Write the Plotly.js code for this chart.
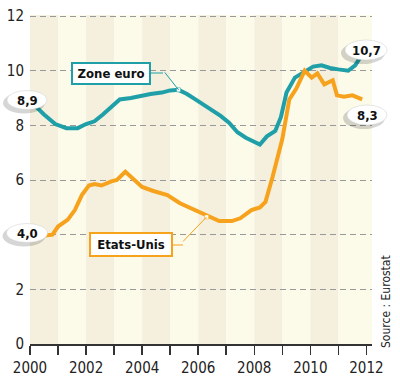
<!DOCTYPE html>
<html><head><meta charset="utf-8">
<script src="https://cdn.plot.ly/plotly-3.0.1.min.js"></script>
<style>html,body{margin:0;padding:0;background:#fff}#chart{width:400px;height:379px}</style>
</head><body><div id="chart"></div>
<script>
// ---- data ----
const euroYears = [2000.0,2000.2,2000.5,2000.9,2001.3,2001.7,2002.0,2002.3,2002.6,2002.9,2003.2,2003.6,2004.0,2004.3,2004.7,2005.0,2005.3,2005.6,2005.9,2006.2,2006.5,2006.8,2007.1,2007.4,2007.7,2008.0,2008.2,2008.45,2008.75,2008.95,2009.15,2009.45,2009.8,2010.1,2010.4,2010.7,2011.0,2011.35,2011.6,2011.85];
const euroRate  = [8.85,8.7,8.4,8.05,7.9,7.9,8.05,8.15,8.4,8.7,8.95,9.0,9.1,9.15,9.2,9.28,9.3,9.15,8.95,8.75,8.55,8.35,8.1,7.75,7.55,7.4,7.3,7.6,7.8,8.3,9.2,9.75,9.95,10.15,10.2,10.1,10.05,10.0,10.2,10.6];
const usYears = [2000.0,2000.4,2000.8,2001.0,2001.35,2001.6,2001.85,2002.1,2002.3,2002.55,2002.9,2003.1,2003.4,2003.6,2003.8,2004.0,2004.4,2004.9,2005.35,2005.8,2006.3,2006.75,2007.2,2007.5,2007.9,2008.2,2008.4,2008.65,2009.0,2009.25,2009.5,2009.8,2010.05,2010.25,2010.5,2010.8,2010.95,2011.2,2011.5,2011.85];
const usRate  = [4.0,3.95,4.0,4.3,4.55,4.9,5.45,5.8,5.85,5.8,5.95,6.0,6.3,6.1,5.9,5.75,5.6,5.45,5.15,4.95,4.7,4.5,4.5,4.6,4.9,5.0,5.2,6.1,7.5,8.95,9.35,10.0,9.75,9.9,9.5,9.65,9.1,9.05,9.1,8.95];
const seriesNames = ["Zone euro","Etats-Unis"];
const startLabels = ["8,9","4,0"];
const endLabels = ["10,7","8,3"];
const yearTicks = [2000,2001,2002,2003,2004,2005,2006,2007,2008,2009,2010,2011,2012];
const yearLabels = ["2000","","2002","","2004","","2006","","2008","","2010","","2012"];
const yTicks = [0,2,4,6,8,10,12];
const yLabels = ["0","2","","6","8","10","12"];   // "4" is hidden behind the 4,0 label
const sourceText = "Source : Eurostat";

// ---- styles ----
const TEAL = "#1f9fa8", ORANGE = "#f7a21c";
const FONT = "Liberation Sans Narrow, DejaVu Sans Condensed, Arial Narrow, sans-serif";
const L = 30, R = 28, T = 15, B = 35, W = 400, H = 379;
const pw = W - L - R, ph = H - T - B;
const px = p => (p - L) / pw;           // pixel -> paper x
const py = p => (H - B - p) / ph;       // pixel -> paper y

const euroIdx = 16, usIdx = 20;

const traces = [
  {x: euroYears, y: euroRate, type: "scatter", mode: "lines", line: {color: TEAL, width: 4}, hoverinfo: "skip"},
  {x: usYears, y: usRate, type: "scatter", mode: "lines", line: {color: ORANGE, width: 4}, hoverinfo: "skip"},
  {x: [euroYears[euroIdx]], y: [euroRate[euroIdx]], type: "scatter", mode: "markers",
   marker: {symbol: "square", size: 4, color: "#fff", line: {color: TEAL, width: 0.5}}, hoverinfo: "skip"},
  {x: [usYears[usIdx]], y: [usRate[usIdx] - 0.05], type: "scatter", mode: "markers",
   marker: {symbol: "square", size: 4, color: "#fff", line: {color: ORANGE, width: 0.5}}, hoverinfo: "skip"}
];

const shapes = [];
for (let yr = 2000; yr < 2012; yr++) {
  shapes.push({type: "rect", xref: "x", yref: "paper", x0: yr, x1: yr === 2011 ? 2012.2 : yr + 1, y0: 0, y1: 1,
    fillcolor: (yr % 2 === 0) ? "#f4f0dd" : "#fcfae9", line: {width: 0}, layer: "below"});
}
function ellipse(cx, cy, w, h) {
  shapes.push({type: "circle", xref: "paper", yref: "paper", xsizemode: "pixel", ysizemode: "pixel",
    xanchor: px(cx - 3), yanchor: py(cy + 3), x0: -w/2 - 1, x1: w/2 + 1, y0: -h/2 - 1, y1: h/2 + 1,
    fillcolor: "rgba(0,0,0,0.16)", line: {width: 0}, layer: "above"});
  shapes.push({type: "circle", xref: "paper", yref: "paper", xsizemode: "pixel", ysizemode: "pixel",
    xanchor: px(cx), yanchor: py(cy), x0: -w/2, x1: w/2, y0: -h/2, y1: h/2,
    fillcolor: "#ffffff", line: {width: 0.5, color: "#cccccc"}, layer: "above"});
}
const valueLabels = [
  {t: startLabels[0], cx: 27, cy: 100, w: 40, h: 19},
  {t: startLabels[1], cx: 27, cy: 233, w: 41, h: 19},
  {t: endLabels[0], cx: 366, cy: 50, w: 42, h: 20},
  {t: endLabels[1], cx: 367, cy: 115, w: 40, h: 20}
];
valueLabels.forEach(v => ellipse(v.cx, v.cy, v.w, v.h));

shapes.push({type: "line", xref: "paper", yref: "paper", x0: px(150), x1: px(163), y0: py(73), y1: py(73), line: {color: TEAL, width: 1}});
shapes.push({type: "line", xref: "paper", yref: "paper", x0: px(172), x1: px(183), y0: py(245), y1: py(245), line: {color: ORANGE, width: 1}});

const annotations = [];
valueLabels.forEach(v => annotations.push({xref: "paper", yref: "paper", x: px(v.cx), y: py(v.cy), text: "<b>" + v.t + "</b>",
  showarrow: false, font: {family: FONT, size: 13, color: "#111"}, xanchor: "center", yanchor: "middle"}));
annotations.push({xref: "paper", yref: "paper", x: px(111), y: py(73), text: "<b>" + seriesNames[0] + "</b>", showarrow: false,
  font: {family: FONT, size: 13, color: "#111"}, bgcolor: "#fff", bordercolor: TEAL, borderwidth: 2, borderpad: 2,
  width: 72, height: 15, xanchor: "center", yanchor: "middle"});
annotations.push({xref: "paper", yref: "paper", x: px(131), y: py(245), text: "<b>" + seriesNames[1] + "</b>", showarrow: false,
  font: {family: FONT, size: 13, color: "#111"}, bgcolor: "#fff", bordercolor: ORANGE, borderwidth: 2, borderpad: 2,
  width: 76, height: 17, xanchor: "center", yanchor: "middle"});
annotations.push({x: euroYears[euroIdx], y: euroRate[euroIdx], xref: "x", yref: "y", text: "", showarrow: true,
  arrowhead: 0, arrowwidth: 1, arrowcolor: TEAL, ax: -15, ay: -19, standoff: 0});
annotations.push({x: usYears[usIdx], y: usRate[usIdx] - 0.05, xref: "x", yref: "y", text: "", showarrow: true,
  arrowhead: 0, arrowwidth: 1, arrowcolor: ORANGE, ax: -25, ay: 26, standoff: 0});
annotations.push({xref: "paper", yref: "paper", x: px(386), y: py(302), text: sourceText, textangle: -90, showarrow: false,
  font: {family: FONT, size: 12, color: "#222"}, xanchor: "center", yanchor: "middle"});

const layout = {
  width: W, height: H,
  margin: {l: L, r: R, t: T, b: B, pad: 0},
  paper_bgcolor: "#fff", plot_bgcolor: "#fff",
  showlegend: false,
  xaxis: {range: [2000, 2012.2], tickvals: yearTicks, ticktext: yearLabels, ticks: "outside", ticklen: 9, tickwidth: 1.5,
    tickcolor: "#333", showline: true, linecolor: "#333", linewidth: 1.5, showgrid: false, zeroline: false,
    tickfont: {family: FONT, size: 15, color: "#222"}, fixedrange: true},
  yaxis: {range: [0, 12.04], tickvals: yTicks, ticktext: yLabels, showgrid: true, gridcolor: "#999", gridwidth: 1, griddash: "6px,4px",
    zeroline: false, showline: false, ticks: "", tickfont: {family: FONT, size: 15, color: "#222"}, ticklabelstandoff: 5, fixedrange: true},
  shapes: shapes,
  annotations: annotations
};
Plotly.newPlot("chart", traces, layout, {staticPlot: true, displayModeBar: false});
</script></body></html>
